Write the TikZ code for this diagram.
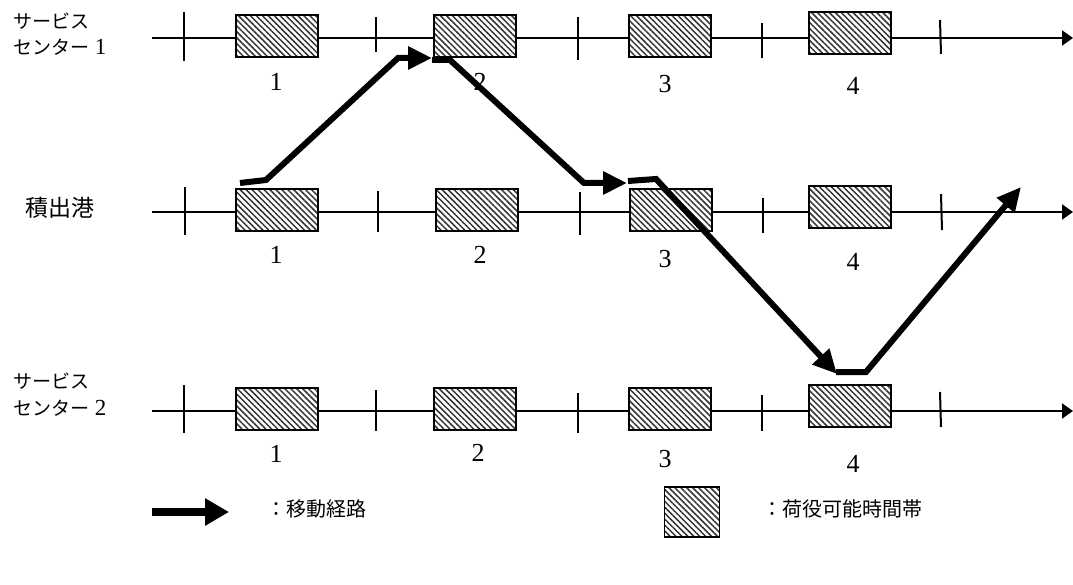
\documentclass[tikz,border=0pt]{standalone}
\usepackage{fontspec}
\setmainfont{Liberation Serif}
\newfontfamily\jp{Noto Sans CJK JP}
\usetikzlibrary{arrows.meta,patterns.meta}
\tikzset{
 tl/.style={line width=2pt,-{Triangle[length=11pt,width=15pt]}},
 tickmk/.style={line width=2pt},
 hatch/.style={preaction={fill=white},
   pattern={Lines[angle=-45,distance=4.2pt,line width=1.5pt]},pattern color=black!80},
 slot/.style={draw,line width=2pt,minimum width=82pt,minimum height=42pt,inner sep=0pt,hatch},
 route/.style={line width=6pt,-{Triangle[length=24pt,width=22pt]}},
 num/.style={font=\fontsize{26}{26}\selectfont},
 lab/.style={font=\jp\fontsize{19}{26}\selectfont,align=left,anchor=west,inner sep=0pt},
 leg/.style={font=\jp\fontsize{20}{24}\selectfont,anchor=west,inner sep=0pt},
}
\begin{document}
\begin{tikzpicture}[x=1pt,y=-1pt]
\useasboundingbox (0,0) rectangle (1073,585);
% row 1 : service center 1
\coordinate (s1) at (152,38); \coordinate (e1) at (1073,38);
\draw[tl] (s1) -- (e1);
\draw[tickmk] (184,12) -- (184,61);
\draw[tickmk] (376,17) -- (376,52);
\draw[tickmk] (578,17) -- (578,60);
\draw[tickmk] (762,23) -- (762,58);
\draw[tickmk] (940,20) -- (941,54);
\node[slot] (a1) at (277,36) {};
\node[slot] (a2) at (475,36) {};
\node[slot] (a3) at (670,36) {};
\node[slot] (a4) at (850,33) {};
\node[num] (na1) at (276,82) {1};
\node[num] (na2) at (480,82) {2};
\node[num] (na3) at (665,84) {3};
\node[num] (na4) at (853,86) {4};
\node[lab] (l1a) at (13,21) {サービス};
\node[lab] (l1b) at (13,47) {センター\hspace{0.3em}{\rmfamily\fontsize{23}{26}\selectfont 1}};
% row 2 : port
\coordinate (s2) at (152,212); \coordinate (e2) at (1073,212);
\draw[tl] (s2) -- (e2);
\draw[tickmk] (185,187) -- (185,235);
\draw[tickmk] (378,191) -- (378,232);
\draw[tickmk] (580,192) -- (580,235);
\draw[tickmk] (763,198) -- (763,233);
\draw[tickmk] (941,194) -- (942,230);
\node[slot] (b1) at (277,210) {};
\node[slot] (b2) at (477,210) {};
\node[slot] (b3) at (671,210) {};
\node[slot] (b4) at (850,207) {};
\node[num] (nb1) at (276,255) {1};
\node[num] (nb2) at (480,255) {2};
\node[num] (nb3) at (665,259) {3};
\node[num] (nb4) at (853,262) {4};
\node[lab,font=\jp\fontsize{23}{26}\selectfont] (l2) at (25,208) {積出港};
% row 3 : service center 2
\coordinate (s3) at (152,411); \coordinate (e3) at (1073,411);
\draw[tl] (s3) -- (e3);
\draw[tickmk] (184,385) -- (184,433);
\draw[tickmk] (376,390) -- (376,431);
\draw[tickmk] (578,393) -- (578,433);
\draw[tickmk] (762,395) -- (762,431);
\draw[tickmk] (940,392) -- (941,427);
\node[slot] (c1) at (277,409) {};
\node[slot] (c2) at (475,409) {};
\node[slot] (c3) at (670,409) {};
\node[slot] (c4) at (850,406) {};
\node[num] (nc1) at (276,454) {1};
\node[num] (nc2) at (478,453) {2};
\node[num] (nc3) at (665,459) {3};
\node[num] (nc4) at (853,464) {4};
\node[lab] (l3a) at (13,381) {サービス};
\node[lab] (l3b) at (13,408) {センター\hspace{0.3em}{\rmfamily\fontsize{23}{26}\selectfont 2}};
% route
\coordinate (p0) at (240,183); \coordinate (p1) at (266,180);
\coordinate (p2) at (398,58); \coordinate (p3) at (432,58);
\draw[route] (p0) -- (p1) -- (p2) -- (p3);
\coordinate (q0) at (432,60); \coordinate (q1) at (450,60);
\coordinate (q2) at (584,183); \coordinate (q3) at (627,183);
\draw[route] (q0) -- (q1) -- (q2) -- (q3);
\coordinate (r0) at (628,181); \coordinate (r1) at (656,179);
\coordinate (r2) at (837,374);
\draw[route] (r0) -- (r1) -- (r2);
\coordinate (t0) at (836,372); \coordinate (t1) at (866,372);
\coordinate (t2) at (1021,187);
\draw[route] (t0) -- (t1) -- (t2);
% legend
\coordinate (la) at (152,512); \coordinate (lb) at (229,512);
\draw[line width=8pt,-{Triangle[length=24pt,width=26pt]}] (la) -- (lb);
\node[leg] (lt1) at (266,509) {：移動経路};
\node[draw,line width=1.2pt,minimum width=55pt,minimum height=50pt,inner sep=0pt,hatch] (lbox) at (692,512) {};
\node[leg] (lt2) at (762,509) {：荷役可能時間帯};
\end{tikzpicture}
\end{document}
